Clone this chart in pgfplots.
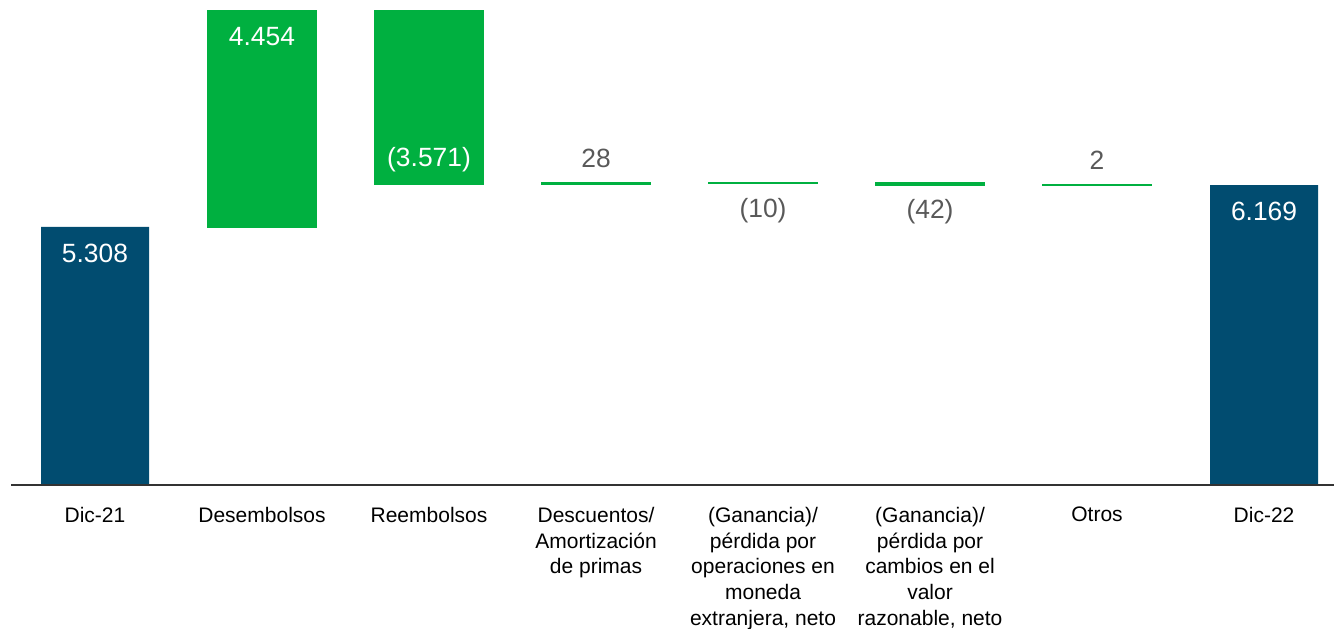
\documentclass[border=0pt]{standalone}
\usepackage{fontspec}
\setmainfont{Liberation Sans}
\usepackage{pgfplots}
\pgfplotsset{compat=1.18}
\definecolor{wfblue}{RGB}{1,76,112}
\definecolor{wfgreen}{RGB}{0,176,64}
\definecolor{lblgrey}{RGB}{89,89,89}
\begin{document}
\begin{tikzpicture}
\path[use as bounding box] (-5.5pt,-71.5pt) rectangle (661.5pt,242.5pt);
\begin{axis}[
  at={(0,0)}, anchor=south west,
  scale only axis, width=661.5pt, height=242.5pt,
  xmin=-0.503, xmax=7.419, ymin=0, ymax=9978,
  ybar stacked, bar width=54pt,
  axis y line=none, axis x line=bottom,
  x axis line style={-, line width=1pt, color=black!80},
  xtick={0,...,7},
  xticklabels={Dic-21, Desembolsos, Reembolsos,
    {Descuentos/\\Amortización\\de primas},
    {(Ganancia)/\\pérdida por\\operaciones en\\moneda\\extranjera, neto},
    {(Ganancia)/\\pérdida por\\cambios en el\\valor\\razonable, neto},
    Otros, Dic-22},
  xticklabel style={align=center, anchor=north, yshift=-7.5pt,
    font=\fontsize{10.5}{12.9}\selectfont, text=black},
  major tick length=0pt,
  axis on top, clip=false,
]
% invisible base
\addplot[draw=none, fill=none] coordinates {
  (0,0) (1,5308) (2,6191) (3,6191) (4,6209) (5,6167) (6,6167) (7,0)};
% changes
\addplot[fill=wfgreen, draw=wfgreen, line width=0.8pt] coordinates {
  (0,0) (1,4454) (2,3571) (3,28) (4,10) (5,42) (6,2) (7,0)};
% totals
\addplot[fill=wfblue, draw=none] coordinates {
  (0,5308) (1,0) (2,0) (3,0) (4,0) (5,0) (6,0) (7,6169)};
\end{axis}
\begin{axis}[
  at={(0,0)}, anchor=south west,
  scale only axis, width=661.5pt, height=242.5pt,
  xmin=-0.503, xmax=7.419, ymin=0, ymax=9978,
  hide axis, clip=false,
]
\begin{scope}[every node/.style={font=\fontsize{13.2}{15}\selectfont}]
\node[text=white] at (axis cs:0,4773) {5.308};
\node[text=white] at (axis cs:1,9217) {4.454};
\node[text=white] at (axis cs:2,6686) {(3.571)};
\node[text=lblgrey] at (axis cs:3,6727) {28};
\node[text=lblgrey] at (axis cs:4,5637) {(10)};
\node[text=lblgrey] at (axis cs:5,5617) {(42)};
\node[text=lblgrey] at (axis cs:6,6686) {2};
\node[text=white] at (axis cs:7,5637) {6.169};
\end{scope}
\end{axis}
\end{tikzpicture}
\end{document}
